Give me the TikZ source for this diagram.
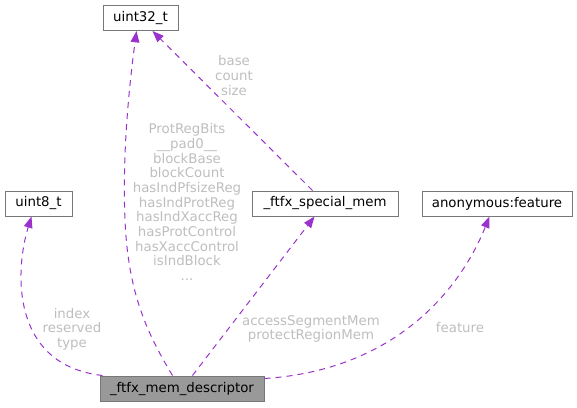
\documentclass[tikz,border=0pt]{standalone}
\usepackage{fontspec}
\setmainfont{DejaVu Sans}
\usetikzlibrary{arrows.meta,calc}
\definecolor{edgec}{HTML}{9A32CD}
\definecolor{labc}{HTML}{BEBEBE}
\definecolor{boxc}{HTML}{777777}
\definecolor{fillc}{HTML}{999999}
\tikzset{
  cls/.style={draw=boxc, fill=white, line width=0.75pt, inner sep=0pt, minimum height=25*0.75pt, font=\fontsize{10}{11}\selectfont},
  main/.style={cls, fill=fillc},
  rel/.style={draw=edgec, line width=0.75pt, dash pattern=on 4.5pt off 3.8pt, -{Triangle[length=8.5pt,width=6.5pt,fill=edgec]}},
  lab/.style={text=labc, align=center, font=\fontsize{10}{11}\selectfont, inner sep=0pt}
}
\begin{document}
\begin{tikzpicture}[x=0.75pt,y=-0.75pt]
\useasboundingbox (0,0) rectangle (577,407);
\node[cls, minimum width=75*0.75pt] (u32) at (140.5,18) {uint32\_t};
\node[cls, minimum width=67*0.75pt] (u8) at (38.5,203.5) {uint8\_t};
\node[main, minimum width=164*0.75pt] (desc) at (182,388.5) {\_ftfx\_mem\_descriptor};
\node[cls, minimum width=146*0.75pt] (spec) at (325,203.5) {\_ftfx\_special\_mem};
\node[cls, minimum width=150*0.75pt] (feat) at (497,203.5) {anonymous:feature};

\draw[rel] ($(desc.north west)+(3,0)$) .. controls (10,365) and (15,270) .. ($(u8.south west)+(27,0)$);
\draw[rel] ($(desc.north west)+(73,0)$) .. controls (145,330) and (128,290) .. (125,220) .. controls (122,150) and (130,80) .. ($(u32.south west)+(34,0)$);
\draw[rel] ($(spec.north west)+(61,0)$) -- ($(u32.south west)+(50,0)$);
\draw[rel] ($(desc.north west)+(93,0)$) -- ($(spec.south west)+(63,0)$);
\draw[rel] ($(desc.east)+(0,-10)$) .. controls (395,370) and (460,290) .. ($(feat.south west)+(68,0)$);

\node[lab] (l1) at (72,329) {index\\reserved\\type};
\node[lab] (l2) at (187,202) {ProtRegBits\\\_\_pad0\_\_\\blockBase\\blockCount\\hasIndPfsizeReg\\hasIndProtReg\\hasIndXaccReg\\hasProtControl\\hasXaccControl\\isIndBlock\\...};
\node[lab] (l3) at (234,75.5) {base\\count\\size};
\node[lab] (l4) at (311,329) {accessSegmentMem\\protectRegionMem};
\node[lab] (l5) at (460,328) {feature};
\end{tikzpicture}
\end{document}
